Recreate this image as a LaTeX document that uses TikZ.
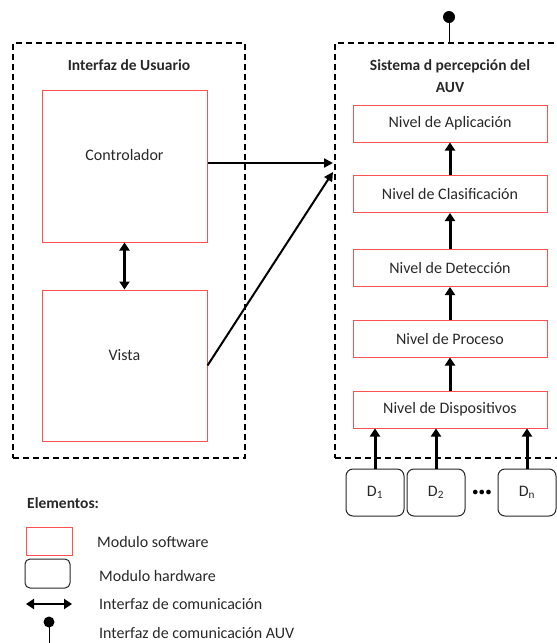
\documentclass[tikz,border=0pt]{standalone}
\usepackage{fontspec}
\setmainfont{Carlito}
\usetikzlibrary{arrows.meta}
\definecolor{swred}{RGB}{255,80,80}
\definecolor{txtgray}{RGB}{40,40,40}
\begin{document}
\begin{tikzpicture}[x=1pt,y=-1pt,
  group/.style={draw=black, line width=1.8pt, dash pattern=on 6pt off 4pt, inner sep=0pt},
  sw/.style={draw=swred, line width=1pt, inner sep=0pt, text=txtgray, font=\fontsize{16}{18}\selectfont},
  hw/.style={draw=black!85, rounded corners=7pt, line width=1pt, inner sep=0pt, text=txtgray, font=\fontsize{16}{18}\selectfont},
  lbl/.style={text=txtgray, font=\fontsize{16}{18}\selectfont, inner sep=0pt},
  ttl/.style={text=txtgray, font=\bfseries\fontsize{15.5}{21.5}\selectfont, inner sep=0pt, align=center},
  flow/.style={-{Triangle[length=8pt,width=10pt]}, line width=3pt},
  link/.style={-{Triangle[length=9pt,width=9pt]}, line width=2pt},
  dbl/.style={{Triangle[length=8pt,width=10pt]}-{Triangle[length=8pt,width=10pt]}, line width=3pt}
]
\useasboundingbox (0,0) rectangle (557,643);

% groups
\node[group, minimum width=232, minimum height=415] (ui) at (129,250.5) {};
\node[group, minimum width=232, minimum height=415] (sys) at (451,250.5) {};
\node[ttl] (uit) at (129,65) {Interfaz de Usuario};
\node[ttl] (syst) at (450,76) {Sistema d percepción del\\AUV};

% AUV pin
\node[circle, fill=black, minimum size=12pt, inner sep=0pt] (pin) at (449,17) {};
\draw[line width=1pt] (pin.center) -- (pin.center |- sys.north);

% user interface modules
\node[sw, minimum width=165, minimum height=152] (ctrl) at (124.5,166) {};
\node[lbl] (ctrlt) at (124.5,155) {Controlador};
\node[sw, minimum width=165, minimum height=151] (vista) at (124.5,365.5) {};
\node[lbl] (vistat) at (124.5,355) {Vista};
\draw[dbl] (ctrl.south) -- (vista.north);

% levels
\node[sw, minimum width=194, minimum height=37] (apl) at (450,123.5) {Nivel de Aplicación};
\node[sw, minimum width=194, minimum height=37] (cla) at (450,194) {Nivel de Clasificación};
\node[sw, minimum width=194, minimum height=37] (det) at (450,268) {Nivel de Detección};
\node[sw, minimum width=194, minimum height=37] (pro) at (450,338.5) {Nivel de Proceso};
\node[sw, minimum width=194, minimum height=37] (dis) at (450,409.5) {Nivel de Dispositivos};
\draw[flow] (cla.north) -- (apl.south);
\draw[flow] (det.north) -- (cla.south);
\draw[flow] (pro.north) -- (det.south);
\draw[flow] (dis.north) -- (pro.south);

% links to system
\coordinate (in1) at (333,163);
\coordinate (in2) at (333,172);
\draw[link] (ctrl.east |- in1) -- (in1);
\draw[link] (vista.east) -- (in2);

% devices
\node[hw, minimum width=58, minimum height=47] (d1) at (375,492.5) {D\textsubscript{1}};
\node[hw, minimum width=58, minimum height=47] (d2) at (436,492.5) {D\textsubscript{2}};
\node[hw, minimum width=58, minimum height=47] (dn) at (527,492.5) {D\textsubscript{n}};
\node[inner sep=0pt, font=\fontsize{12}{14}\selectfont] (dots) at (482,493) {$\bullet\!\bullet\!\bullet$};
\draw[flow] (d1.north) -- (d1.north |- dis.south);
\draw[flow] (d2.north) -- (d2.north |- dis.south);
\draw[flow] (dn.north) -- (dn.north |- dis.south);

% legend
\node[ttl, anchor=west] (elem) at (27,503) {Elementos:};
\node[sw, minimum width=46, minimum height=28] (lsw) at (49,541) {};
\node[lbl, anchor=west] (lswt) at (97,542) {Modulo software};
\node[hw, minimum width=45, minimum height=29, rounded corners=5pt] (lhw) at (47.5,573.5) {};
\node[lbl, anchor=west] (lhwt) at (99,576) {Modulo hardware};
\coordinate (la1) at (26,604);
\coordinate (la2) at (72,604);
\draw[dbl, line width=2.4pt] (la1) -- (la2);
\node[lbl, anchor=west] (lat) at (99,604) {Interfaz de comunicación};
\node[circle, fill=black, minimum size=11pt, inner sep=0pt] (lpin) at (49,622) {};
\coordinate (lpinend) at (49,643);
\draw[line width=1pt] (lpin.center) -- (lpinend);
\node[lbl, anchor=west] (lpint) at (99,633) {Interfaz de comunicación AUV};
\end{tikzpicture}
\end{document}
